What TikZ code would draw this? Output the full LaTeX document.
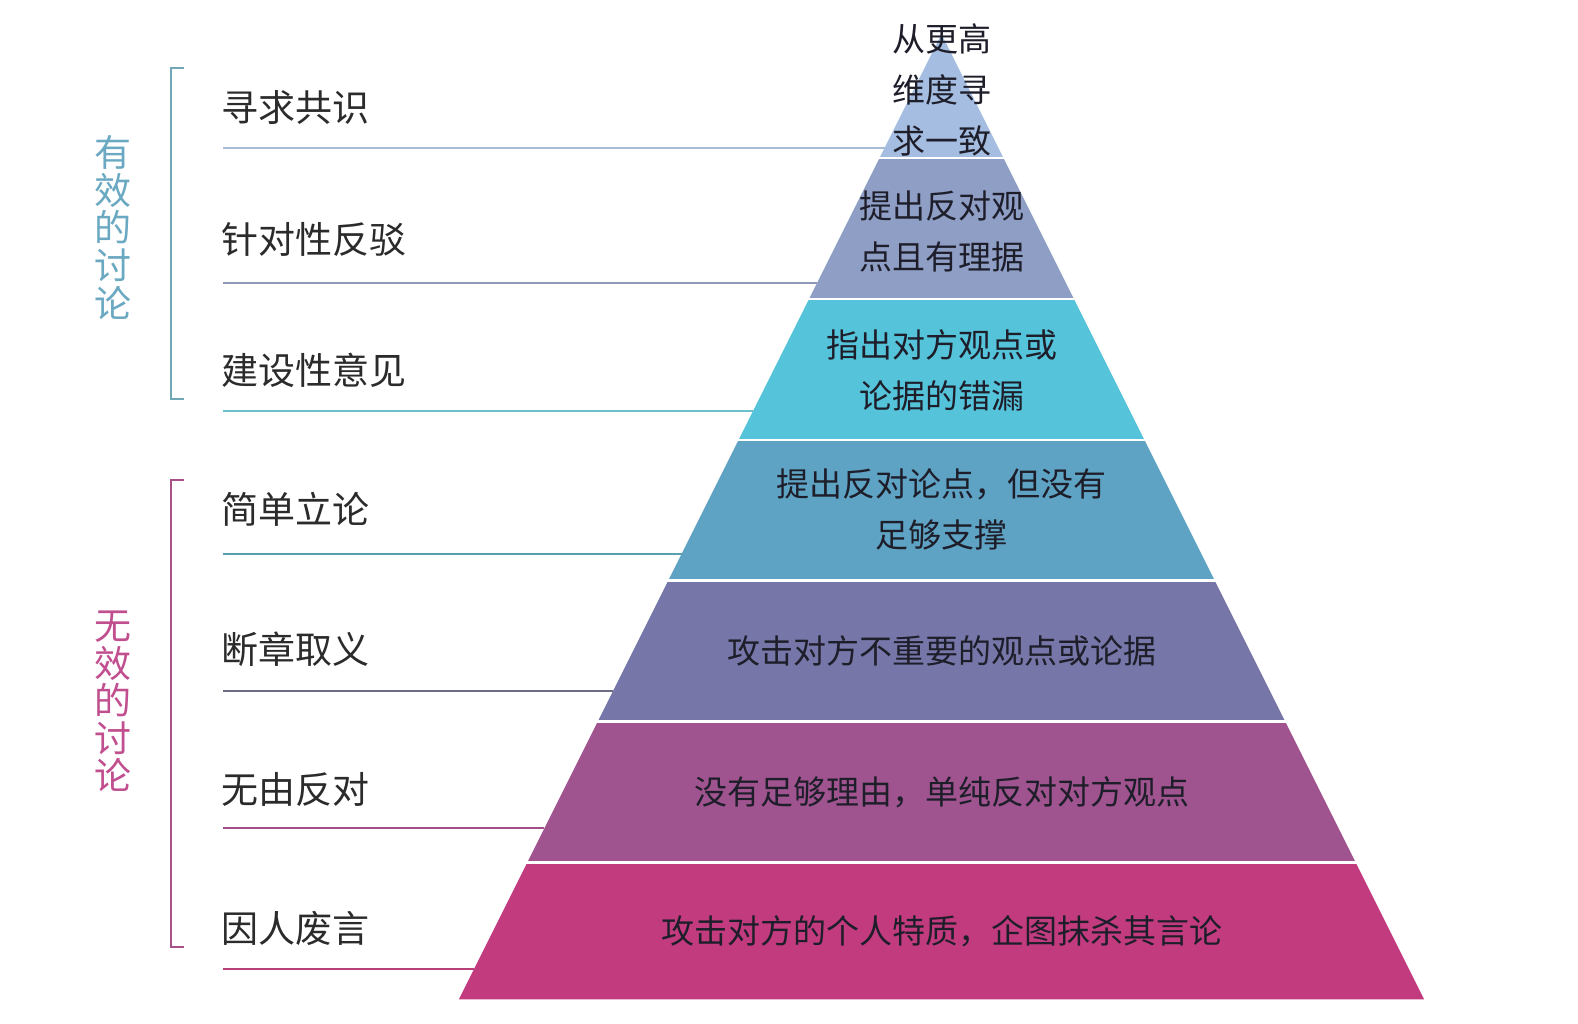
\documentclass[tikz,border=0pt]{standalone}
\usepackage{fontspec}
\setmainfont{Noto Sans CJK SC}
\definecolor{c1}{HTML}{A4BDE0}
\definecolor{c2}{HTML}{8E9EC5}
\definecolor{c3}{HTML}{55C3D9}
\definecolor{c4}{HTML}{5EA3C3}
\definecolor{c5}{HTML}{7677A8}
\definecolor{c6}{HTML}{A0548F}
\definecolor{c7}{HTML}{C33B7F}
\definecolor{l1}{HTML}{A9BCD6}
\definecolor{l2}{HTML}{8D99B5}
\definecolor{l3}{HTML}{6BC0CC}
\definecolor{l4}{HTML}{5B9FAE}
\definecolor{l5}{HTML}{6D6C88}
\definecolor{l6}{HTML}{A24F88}
\definecolor{l7}{HTML}{B93F79}
\definecolor{brA}{HTML}{6FA7B6}
\definecolor{txA}{HTML}{6BA9C2}
\definecolor{brB}{HTML}{A8508A}
\definecolor{txB}{HTML}{C14F8F}
\definecolor{labc}{HTML}{2B2B2B}
\definecolor{ptc}{HTML}{1E1E2A}
\begin{document}
\begin{tikzpicture}[x=1pt,y=-1pt,
  lab/.style={anchor=west,inner sep=0pt,text=labc,font=\fontsize{37}{40}\selectfont},
  ptext/.style={inner sep=0pt,align=center,text=ptc,font=\fontsize{33}{51.4}\selectfont},
  vtext/.style={inner sep=0pt,align=center,font=\fontsize{37}{37.6}\selectfont},
  sep/.style={white,line width=2.5pt},
  lline/.style={line width=2pt}]
\useasboundingbox (0,0) rectangle (1578,1024);
\fill[white] (0,0) rectangle (1578,1024);
\def\cx{941.5}
\def\ay{34.2}
% pyramid bands
\foreach \ya/\yb/\col in {34.2/158/c1,158/299/c2,299/440/c3,440/580.7/c4,580.7/721.6/c5,721.6/862.5/c6,862.5/999.4/c7}
  \fill[\col] ({\cx-(\ya-\ay)/2},\ya) -- ({\cx+(\ya-\ay)/2},\ya) -- ({\cx+(\yb-\ay)/2},\yb) -- ({\cx-(\yb-\ay)/2},\yb) -- cycle;
\foreach \y in {158,299,440,580.7,721.6,862.5}
  \draw[sep] ({\cx-(\y-\ay)/2-2},\y) -- ({\cx+(\y-\ay)/2+2},\y);
% pyramid texts
\node[ptext] (p1) at (\cx,89.9) {从更高\\维度寻\\求一致};
\node[ptext] (p2) at (\cx,231.3) {提出反对观\\点且有理据};
\node[ptext] (p3) at (\cx,370.2) {指出对方观点或\\论据的错漏};
\node[ptext] (p4) at (\cx,509.7) {提出反对论点，但没有\\足够支撑};
\node[ptext] (p5) at (\cx,651) {攻击对方不重要的观点或论据};
\node[ptext] (p6) at (\cx,792) {没有足够理由，单纯反对对方观点};
\node[ptext] (p7) at (\cx,931) {攻击对方的个人特质，企图抹杀其言论};
% left labels
\node[lab] (t1) at (221,107.7) {寻求共识};
\node[lab] (t2) at (221,239.5) {针对性反驳};
\node[lab] (t3) at (221,370.4) {建设性意见};
\node[lab] (t4) at (221,509) {简单立论};
\node[lab] (t5) at (221,649) {断章取义};
\node[lab] (t6) at (221,789) {无由反对};
\node[lab] (t7) at (221,928) {因人废言};
% leader lines
\foreach \i/\y/\col in {1/148/l1,2/283/l2,3/410.6/l3,4/553.5/l4,5/691.4/l5,6/828.3/l6,7/969.2/l7}{
  \coordinate (ls\i) at (223.4,\y);
  \coordinate (le\i) at ({\cx-(\y-\ay)/2},\y);
  \draw[lline,\col] (ls\i) -- (le\i);
}
% brackets
\coordinate (ba1) at (184,68.4);
\coordinate (ba2) at (171,68.4);
\coordinate (ba3) at (171,398.5);
\coordinate (ba4) at (184,398.5);
\draw[brA,line width=2pt] (ba1) -- (ba2) -- (ba3) -- (ba4);
\coordinate (bb1) at (184,480);
\coordinate (bb2) at (171,480);
\coordinate (bb3) at (171,947);
\coordinate (bb4) at (184,947);
\draw[brB,line width=2pt] (bb1) -- (bb2) -- (bb3) -- (bb4);
% vertical group labels
\node[vtext,text=txA] (v1) at (112.7,227.5) {有\\效\\的\\讨\\论};
\node[vtext,text=txB] (v2) at (112.7,701.5) {无\\效\\的\\讨\\论};
\end{tikzpicture}
\end{document}
